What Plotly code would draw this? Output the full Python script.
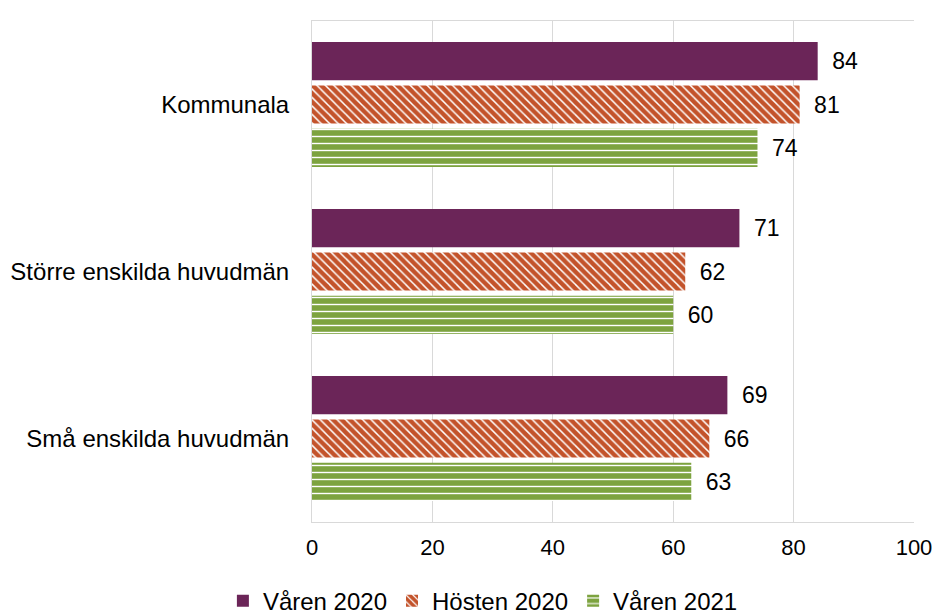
import plotly.graph_objects as go

categories = ["Kommunala", "Större enskilda huvudmän", "Små enskilda huvudmän"]
series_names = ["Våren 2020", "Hösten 2020", "Våren 2021"]
varen_2020 = [84, 71, 69]
hosten_2020 = [81, 62, 66]
varen_2021 = [74, 60, 63]
x_ticks = [0, 20, 40, 60, 80, 100]

colors = ["#6B2558", "#C3532B", "#7DA33F"]
patterns = [
    dict(shape=""),
    dict(shape="\\", fgcolor="white", bgcolor=colors[1], size=6, solidity=0.25, fillmode="replace"),
    dict(shape="-", fgcolor="white", bgcolor=colors[2], size=7, solidity=0.2, fillmode="replace"),
]

FONT = "Liberation Sans, Arial"
GRID = "#D9D9D9"

fig = go.Figure()
for name, vals, col, pat in zip(series_names, [varen_2020, hosten_2020, varen_2021], colors, patterns):
    fig.add_trace(go.Bar(
        y=categories, x=vals, name=name, orientation="h",
        marker=dict(color=col, pattern=pat, line=dict(width=0)),
        text=vals, texttemplate="\u2002%{x}", textposition="outside",
        textfont=dict(size=23, color="#000000", family=FONT),
        cliponaxis=False,
    ))

fig.update_layout(
    width=933, height=607,
    barmode="group", bargap=0.22, bargroupgap=0.12,
    paper_bgcolor="white", plot_bgcolor="white",
    margin=dict(l=304, r=27, t=13, b=93, autoexpand=False),
    font=dict(family=FONT, size=23, color="#000000"),
    uniformtext=dict(minsize=23, mode="show"),
    xaxis=dict(range=[0, 100], tickvals=x_ticks, showgrid=True, gridcolor=GRID,
               gridwidth=1, showline=True, linecolor=GRID, mirror=True, zeroline=False,
               ticklabelstandoff=6, tickfont=dict(size=22), automargin=False),
    xaxis2=dict(range=[0, 100], tickvals=x_ticks, overlaying="x", side="top",
                showgrid=False, showline=False, zeroline=False, ticks="outside",
                ticklen=7, tickcolor=GRID, tickwidth=1, showticklabels=False,
                automargin=False),
    yaxis=dict(autorange="reversed", showline=True, linecolor=GRID,
               ticklabelstandoff=17, tickfont=dict(size=24), automargin=False),
    legend=dict(orientation="h", xref="container", yref="paper", x=0.509, y=-0.158,
                xanchor="center", yanchor="middle", font=dict(size=24),
                traceorder="normal", itemwidth=30),
    showlegend=True,
)

fig.write_html("out.html")
